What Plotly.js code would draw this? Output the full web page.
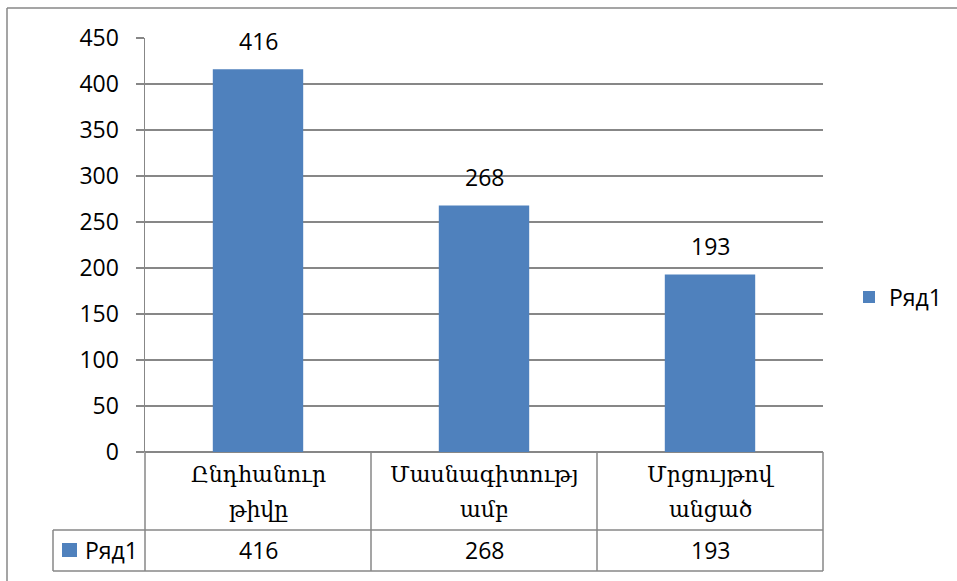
<!DOCTYPE html>
<html>
<head>
<meta charset="utf-8">
<script src="https://cdn.plot.ly/plotly-3.0.1.min.js"></script>
<style>html,body{margin:0;padding:0;background:#fff;}#chart{width:957px;height:581px;}</style>
</head>
<body>
<div id="chart"></div>
<script>
// ---- data ----
var categories = ["Ընդհանուր<br>թիվը", "Մասնագիտությ<br>ամբ", "Մրցույթով<br>անցած"];
var values = [416, 268, 193];
var seriesName = "Ряд1";
var yTicks = [0, 50, 100, 150, 200, 250, 300, 350, 400, 450];

// ---- geometry helpers ----
var W = 957, H = 581;
var M = {l: 145, r: 134, t: 38, b: 129};
var PW = W - M.l - M.r, PH = H - M.t - M.b;
function px(x) { return (x - M.l) / PW; }
function py(y) { return (H - M.b - y) / PH; }

var barColor = "#4F81BD";
var lineColor = "#878787";
var numFont = {family: "Open Sans, Liberation Sans, sans-serif", size: 23, color: "#000"};
var armFont = {family: "DejaVu Serif, DejaVu Sans, serif", size: 22, color: "#000"};

var catIdx = categories.map(function (c, i) { return i; });

var trace = {
  type: "bar",
  x: catIdx,
  y: values,
  name: seriesName,
  marker: {color: barColor},
  hoverinfo: "none"
};

var shapes = [];
function line(x0, y0, x1, y1, xref, yref) {
  shapes.push({type: "line", xref: xref || "paper", yref: yref || "paper",
    x0: x0, y0: y0, x1: x1, y1: y1, line: {color: lineColor, width: 1.5}});
}
// outer chart border (left & top)
line(px(7), py(8), px(7), py(700));
line(px(7), py(8), px(1100), py(8));
// data table
line(px(53), py(530), 1, py(530));
line(px(53), py(571), 1, py(571));
line(px(53), py(530), px(53), py(571));
line(0, 0, 0, py(571));
line(1, 0, 1, py(571));
for (var i = 0; i < categories.length - 1; i++) {
  line(i + 0.5, 0, i + 0.5, py(571), "x", "paper");
}
// legend key in table
shapes.push({type: "rect", xref: "paper", yref: "paper",
  x0: px(62), x1: px(77), y0: py(557), y1: py(543),
  fillcolor: barColor, line: {width: 0}});

var annotations = [];
categories.forEach(function (c, i) {
  var parts = c.split("<br>");
  var ys = [474, 509];
  parts.forEach(function (p, k) {
    annotations.push({xref: "x", yref: "paper", x: i, y: py(ys[k]), text: p,
      showarrow: false, xanchor: "center", yanchor: "middle", font: armFont});
  });
  annotations.push({xref: "x", yref: "paper", x: i, y: py(550), text: String(values[i]),
    showarrow: false, xanchor: "center", yanchor: "middle", font: numFont});
  // data labels
  annotations.push({xref: "x", yref: "y", x: i, y: values[i], text: String(values[i]),
    showarrow: false, xanchor: "center", yanchor: "middle", yshift: 28, font: numFont});
});
annotations.push({xref: "paper", yref: "paper", x: px(83), y: py(550), text: seriesName,
  showarrow: false, xanchor: "left", yanchor: "middle", font: numFont});

var layout = {
  width: W, height: H,
  margin: {l: M.l, r: M.r, t: M.t, b: M.b, pad: 0, autoexpand: false},
  paper_bgcolor: "#fff", plot_bgcolor: "#fff",
  bargap: 0.6,
  showlegend: true,
  legend: {x: px(849), y: py(297), xanchor: "left", yanchor: "middle",
    font: numFont, itemwidth: 30, bgcolor: "rgba(0,0,0,0)"},
  xaxis: {type: "linear", range: [-0.5, categories.length - 0.5], showticklabels: false,
    showgrid: false, zeroline: false, showline: false, ticks: "", fixedrange: true},
  yaxis: {range: [0, 450], tickvals: yTicks, ticktext: yTicks.map(String),
    showgrid: true, gridcolor: lineColor, gridwidth: 1.5,
    showline: true, linecolor: lineColor, linewidth: 1.5,
    zeroline: true, zerolinecolor: lineColor, zerolinewidth: 1.5,
    ticks: "outside", ticklen: 8, tickwidth: 1.5, tickcolor: lineColor,
    ticklabelstandoff: 12, tickfont: numFont, fixedrange: true},
  shapes: shapes,
  annotations: annotations
};

Plotly.newPlot("chart", [trace], layout, {staticPlot: true, displayModeBar: false});
</script>
</body>
</html>
